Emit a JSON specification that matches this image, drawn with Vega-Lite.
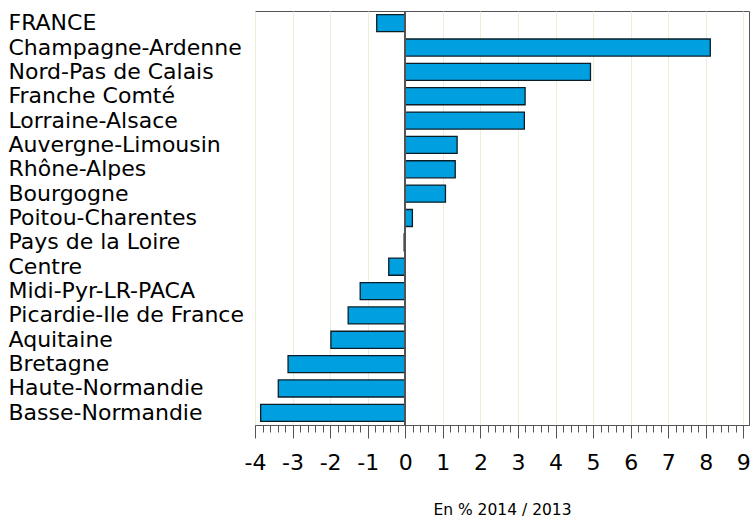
{
  "$schema": "https://vega.github.io/schema/vega-lite/v6.json",
  "autosize": "none",
  "width": 494,
  "height": 414,
  "padding": {"left": 255, "top": 11, "right": 1, "bottom": 92},
  "background": "white",
  "config": {"view": {"stroke": "#555555", "strokeWidth": 1}, "font": "DejaVu Sans"},
  "data": {"values": [
    {"region": "FRANCE", "value": -0.76},
    {"region": "Champagne-Ardenne", "value": 8.12},
    {"region": "Nord-Pas de Calais", "value": 4.93},
    {"region": "Franche Comté", "value": 3.19},
    {"region": "Lorraine-Alsace", "value": 3.17},
    {"region": "Auvergne-Limousin", "value": 1.38},
    {"region": "Rhône-Alpes", "value": 1.33},
    {"region": "Bourgogne", "value": 1.07},
    {"region": "Poitou-Charentes", "value": 0.19},
    {"region": "Pays de la Loire", "value": -0.03},
    {"region": "Centre", "value": -0.44},
    {"region": "Midi-Pyr-LR-PACA", "value": -1.2},
    {"region": "Picardie-Ile de France", "value": -1.52},
    {"region": "Aquitaine", "value": -1.98},
    {"region": "Bretagne", "value": -3.12},
    {"region": "Haute-Normandie", "value": -3.38},
    {"region": "Basse-Normandie", "value": -3.85}
  ]},
  "resolve": {"axis": {"x": "independent"}},
  "layer": [
    {
      "mark": {"type": "bar", "fill": "#009FE0", "stroke": "#0B1E28", "strokeWidth": 1.3},
      "encoding": {
        "y": {
          "field": "region", "type": "nominal", "sort": null,
          "scale": {"paddingInner": 0.3, "paddingOuter": 0.15},
          "axis": {
            "title": null, "ticks": false, "domain": false,
            "labelAlign": "left", "labelPadding": 247, "labelFontSize": 22,
            "labelColor": "#000000", "labelLimit": 400, "labelBaseline": "middle",
            "labelFont": "DejaVu Sans"
          }
        },
        "x": {
          "field": "value", "type": "quantitative",
          "scale": {"domain": [-4, 9.15], "nice": false, "zero": false},
          "axis": {
            "orient": "bottom",
            "values": [-4, -3, -2, -1, 0, 1, 2, 3, 4, 5, 6, 7, 8, 9],
            "labelExpr": "datum.value < 0 ? '-' + abs(datum.value) : '' + datum.value",
            "grid": true, "gridColor": "#EDEDD8", "gridWidth": 1,
            "domain": true, "domainColor": "#555555",
            "tickSize": 13, "tickColor": "#555555", "tickWidth": 1,
            "labelFontSize": 22, "labelColor": "#000000", "labelPadding": 14,
            "labelFont": "DejaVu Sans", "labelFlush": false,
            "title": "En % 2014 / 2013", "titleFontSize": 15.5, "titleFontWeight": "normal",
            "titleColor": "#000000", "titlePadding": 29, "titleFont": "DejaVu Sans"
          }
        }
      }
    },
    {
      "mark": {"type": "rule", "color": "#555555", "strokeWidth": 1},
      "encoding": {
        "x": {
          "datum": 0, "type": "quantitative",
          "axis": {
            "orient": "bottom",
            "values": [-3.8,-3.6,-3.4,-3.2,-2.8,-2.6,-2.4,-2.2,-1.8,-1.6,-1.4,-1.2,-0.8,-0.6,-0.4,-0.2,0.2,0.4,0.6,0.8,1.2,1.4,1.6,1.8,2.2,2.4,2.6,2.8,3.2,3.4,3.6,3.8,4.2,4.4,4.6,4.8,5.2,5.4,5.6,5.8,6.2,6.4,6.6,6.8,7.2,7.4,7.6,7.8,8.2,8.4,8.6,8.8,9.2],
            "grid": false, "domain": false, "labels": false, "title": null,
            "tickSize": 7, "tickColor": "#555555", "tickWidth": 1
          }
        }
      }
    }
  ]
}
